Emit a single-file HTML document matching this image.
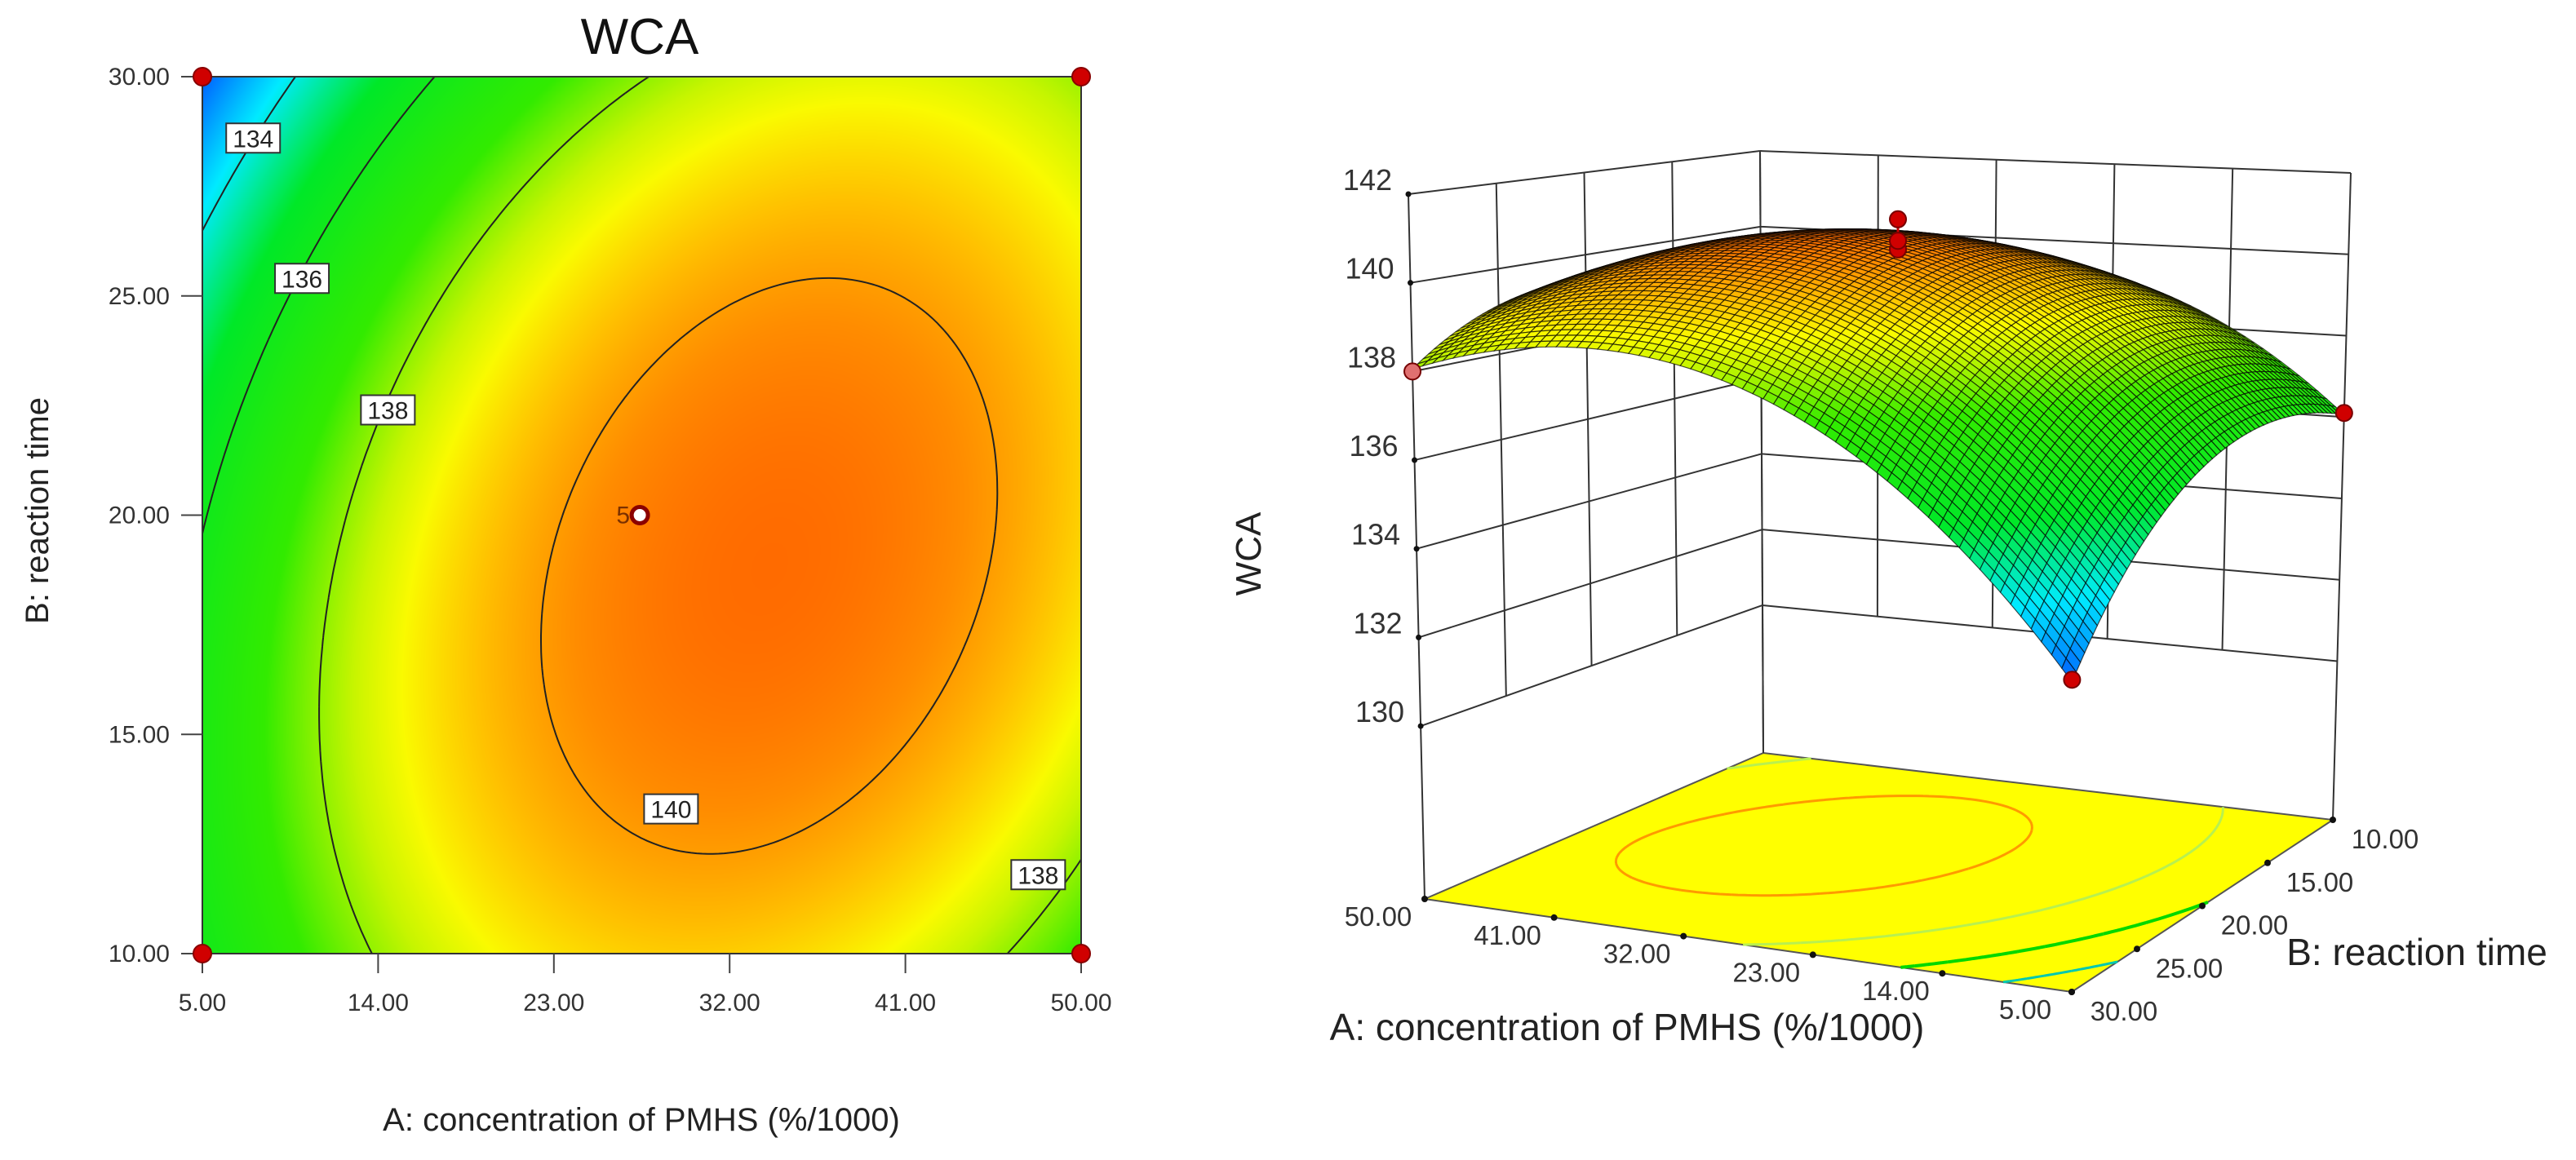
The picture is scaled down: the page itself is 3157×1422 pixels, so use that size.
<!DOCTYPE html>
<html><head><meta charset="utf-8"><title>WCA response surface</title>
<style>
html,body{margin:0;padding:0;background:#fff;}
#wrap{position:relative;width:3157px;height:1422px;overflow:hidden;background:#fff;font-family:"Liberation Sans",sans-serif;}
#heat{position:absolute;left:248px;top:94px;}
#svg{position:absolute;left:0;top:0;}
</style></head>
<body>
<div id="wrap">
<canvas id="heat" width="1077" height="1075"></canvas>
<svg id="svg" width="3157" height="1422" xmlns="http://www.w3.org/2000/svg"></svg>
</div>
<script>
// ---- data ----
const aTicks=[5,14,23,32,41,50];
const bTicks=[10,15,20,25,30];
const zTicks=[130,132,134,136,138,140,142];
const contourLevels=[134,136,138,140];
// quadratic model coefficients (coded units): b0,bA,bB,bAB,bAA,bBB
const coef=[140.4,1.725,-0.725,1.125,-2.75,-1.72];
const designA=[5,50,5,50];
const designB=[10,10,30,30];
const designW=[136.1,137.3,132.4,138.0];
const centerW=[140.4,140.6,141.1];
const labelLevels=[134,136,138,140,138];
const labelA=[7.6,10.1,14.5,29.0,47.8];
const labelB=[28.6,25.4,22.4,13.3,11.8];

const NS="http://www.w3.org/2000/svg";
const svg=document.getElementById('svg');
function W(A,B){const x=(A-27.5)/22.5,y=(B-20)/10;
 return coef[0]+coef[1]*x+coef[2]*y+coef[3]*x*y+coef[4]*x*x+coef[5]*y*y;}
const stops=[[132.4,[0,100,255]],[133.8,[0,235,255]],[135.3,[0,232,40]],[137.3,[50,235,0]],[138.4,[200,245,0]],[138.9,[250,250,0]],[139.6,[255,190,0]],[140.2,[255,140,0]],[140.8,[255,100,0]]];
function col(v){if(v<=stops[0][0])return stops[0][1];
 for(let i=1;i<stops.length;i++){if(v<=stops[i][0]){const a=stops[i-1],b=stops[i];const t=(v-a[0])/(b[0]-a[0]);
  return [0,1,2].map(k=>Math.round(a[1][k]+(b[1][k]-a[1][k])*t));}}
 return stops[stops.length-1][1];}
function el(tag,attrs,parent){const e=document.createElementNS(NS,tag);for(const k in attrs)e.setAttribute(k,attrs[k]);(parent||svg).appendChild(e);return e;}
function txt(s,x,y,size,anchor,fill,parent){const t=el('text',{x:x,y:y,'font-size':size,'text-anchor':anchor||'middle',fill:fill||'#222','font-family':'Liberation Sans, sans-serif'},parent);t.textContent=s;return t;}
function contour(level,n){const segs=[];const dA=45/n,dB=20/n;
 for(let i=0;i<n;i++)for(let j=0;j<n;j++){const A0=5+i*dA,B0=10+j*dB;
  const P=[[A0,B0],[A0+dA,B0],[A0+dA,B0+dB],[A0,B0+dB]];const v=P.map(p=>W(p[0],p[1])-level);const pts=[];
  for(let e=0;e<4;e++){const a=e,b=(e+1)%4;if((v[a]<0)!==(v[b]<0)){const t=v[a]/(v[a]-v[b]);pts.push([P[a][0]+(P[b][0]-P[a][0])*t,P[a][1]+(P[b][1]-P[a][1])*t]);}}
  if(pts.length>=2)segs.push([pts[0],pts[1]]);if(pts.length==4)segs.push([pts[2],pts[3]]);}
 return segs;}

// ---- 2D contour plot ----
const PL=248,PT=94,PW=1077,PH=1075;
function px(A){return PL+(A-5)/45*PW;}
function py(B){return PT+(30-B)/20*PH;}
(function(){const c=document.getElementById('heat').getContext('2d');const img=c.createImageData(PW,PH);
 for(let j=0;j<PH;j++){const B=30-j/PH*20;for(let i=0;i<PW;i++){const A=5+i/PW*45;const k=col(W(A,B));const o=(j*PW+i)*4;img.data[o]=k[0];img.data[o+1]=k[1];img.data[o+2]=k[2];img.data[o+3]=255;}}
 c.putImageData(img,0,0);})();
const g2=el('g',{});


contourLevels.forEach(lv=>{let d='';contour(lv,160).forEach(s=>{d+='M'+px(s[0][0]).toFixed(1)+' '+py(s[0][1]).toFixed(1)+'L'+px(s[1][0]).toFixed(1)+' '+py(s[1][1]).toFixed(1);});
 const p=el('path',{d:d,stroke:'#222',fill:'none','stroke-width':2},g2);
 
 });
labelLevels.forEach((lv,i)=>{const x=px(labelA[i]),y=py(labelB[i]);
 const r=el('rect',{x:x-33,y:y-18,width:66,height:36,fill:'#fff',stroke:'#333','stroke-width':2},g2);
 
 
 const t=txt(String(lv),x,y+11,30,'middle','#222',g2);
 
 });
const fr=el('rect',{x:PL,y:PT,width:PW,height:PH,fill:'none',stroke:'#333','stroke-width':2},g2);


aTicks.forEach(a=>{const x=px(a);const l=el('line',{x1:x,y1:PT+PH,x2:x,y2:PT+PH+24,stroke:'#444','stroke-width':2},g2);
 
 
 const t=txt(a.toFixed(2),x,1239,30,'middle','#333',g2);
 
 });
bTicks.forEach(b=>{const y=py(b);const l=el('line',{x1:PL-26,y1:y,x2:PL,y2:y,stroke:'#444','stroke-width':2},g2);
 
 
 const t=txt(b.toFixed(2),208,y+10,30,'end','#333',g2);
 
 });
designA.forEach((a,i)=>{const c=el('circle',{cx:px(a),cy:py(designB[i]),r:11,fill:'#d00000',stroke:'#800','stroke-width':2},g2);
 
 });
const cp=el('circle',{cx:px(27.4),cy:py(20),r:10,fill:'#fff',stroke:'#8b0000','stroke-width':5},g2);


const cpl=txt('5',px(27.4)-12,py(20)+10,30,'end','#7a3000',g2);


const t2=txt('WCA',784,66,62,'middle','#111');


const xt=txt('A: concentration of PMHS (%/1000)',786,1386,40,'middle','#222');


const yt=txt('B: reaction time',0,0,40,'middle','#222');
yt.setAttribute('transform','translate(59,626) rotate(-90)');



// ---- 3D surface ----
const FL={L:[1746,1102],K:[2161,923],R:[2859,1005],F:[2539,1216]};
const TP={L:[1726,238],K:[2157,185],R:[2881,212],F:[2540,250]};
const ZMIN=126.1,ZMAX=142;
function bil(C,s,r){return [0,1].map(k=>(1-s)*(1-r)*C.L[k]+(1-s)*r*C.K[k]+s*r*C.R[k]+s*(1-r)*C.F[k]);}
function P3(A,B,z){const s=(50-A)/45,r=(30-B)/20;const f=bil(FL,s,r),t=bil(TP,s,r);const u=(z-ZMIN)/(ZMAX-ZMIN);return [f[0]+(t[0]-f[0])*u,f[1]+(t[1]-f[1])*u];}
const g3=el('g',{});


function line3(a,b,st,w,name){const p=P3(...a),q=P3(...b);const l=el('line',{x1:p[0],y1:p[1],x2:q[0],y2:q[1],stroke:st,'stroke-width':w},g3);
 
 return l;}
// floor
const fp=[P3(50,30,ZMIN),P3(50,10,ZMIN),P3(5,10,ZMIN),P3(5,30,ZMIN)];
const floor=el('polygon',{points:fp.map(p=>p.join(',')).join(' '),fill:'#ffff00',stroke:'#555','stroke-width':2},g3);


const floorCols={134:'#00c8b0',136:'#00d800',138:'#b8f050',140:'#ff9a00'};
contourLevels.forEach(lv=>{let d='';contour(lv,120).forEach(s=>{const a=P3(s[0][0],s[0][1],ZMIN),b=P3(s[1][0],s[1][1],ZMIN);d+='M'+a[0].toFixed(1)+' '+a[1].toFixed(1)+'L'+b[0].toFixed(1)+' '+b[1].toFixed(1);});
 const p=el('path',{d:d,stroke:floorCols[lv],fill:'none','stroke-width':lv==136?4:3},g3);
 
 });
// walls
bTicks.forEach(b=>{line3([50,b,(b==30||b==10)?ZMIN:130],[50,b,142],'#333',2,'wall-grid-line');});
aTicks.forEach(a=>{line3([a,10,(a==5||a==50)?ZMIN:130],[a,10,142],'#333',2,'wall-grid-line');});
zTicks.forEach(z=>{line3([50,30,z],[50,10,z],'#333',2,'wall-grid-line');line3([50,10,z],[5,10,z],'#333',2,'wall-grid-line');
 const p=P3(50,30,z);const d=el('circle',{cx:p[0],cy:p[1],r:3.5,fill:'#111'},g3);
 
 
 const t=txt(String(z),p[0]-20,p[1]-5,36,'end','#333',g3);
 
 });
// floor axis ticks and labels
aTicks.forEach(a=>{const p=P3(a,30,ZMIN);const d=el('circle',{cx:p[0],cy:p[1],r:4,fill:'#111'},g3);
 
 
 const t=txt(a.toFixed(2),p[0]-57,p[1]+33,33,'middle','#333',g3);
 
 });
bTicks.forEach(b=>{const p=P3(5,b,ZMIN);const d=el('circle',{cx:p[0],cy:p[1],r:4,fill:'#111'},g3);
 
 
 const t=txt(b.toFixed(2),p[0]+64,p[1]+35,33,'middle','#333',g3);
 
 });
// hidden design point (behind surface) drawn first
{const p=P3(designA[1],designB[1],designW[1]);const c=el('circle',{cx:p[0],cy:p[1],r:10,fill:'#d00000',stroke:'#700','stroke-width':2},g3);
 
 }
// surface mesh
const N=64;const quads=[];
for(let i=0;i<N;i++)for(let j=0;j<N;j++){const s0=i/N,s1=(i+1)/N,r0=j/N,r1=(j+1)/N;
 const pts=[[s0,r0],[s1,r0],[s1,r1],[s0,r1]].map(q=>{const A=50-q[0]*45,B=30-q[1]*20;return P3(A,B,W(A,B));});
 const Am=50-(s0+s1)/2*45,Bm=30-(r0+r1)/2*20;quads.push({pts:pts,v:W(Am,Bm),k:(s0+s1)/2-(r0+r1)/2});}
quads.sort((a,b)=>a.k-b.k);
const gs=el('g',{},g3);


quads.forEach(q=>{const c=col(q.v);const p=el('polygon',{points:q.pts.map(p=>p[0].toFixed(1)+','+p[1].toFixed(1)).join(' '),fill:'rgb('+c.join(',')+')',stroke:'rgba(0,0,0,0.68)','stroke-width':1.2},gs);
 
 });
// design points 3D
[0,2,3].forEach(i=>{const p=P3(designA[i],designB[i],designW[i]);const c=el('circle',{cx:p[0],cy:p[1],r:10,fill:i==3?'#e07070':'#d00000',stroke:'#700','stroke-width':2},g3);
 
 });
const sTop=P3(27.5,20,Math.max(...centerW)),sBase=P3(27.5,20,W(27.5,20));
const stem=el('line',{x1:sTop[0],y1:sTop[1],x2:sBase[0],y2:sBase[1],stroke:'#c00','stroke-width':3},g3);


centerW.forEach(w=>{const p=P3(27.5,20,w);const c=el('circle',{cx:p[0],cy:p[1],r:10,fill:'#d00000',stroke:'#700','stroke-width':2},g3);
 
 });
const zt=txt('WCA',0,0,44,'middle','#222',g3);
zt.setAttribute('transform','translate(1545,679) rotate(-90)');


const at=txt('A: concentration of PMHS (%/1000)',1994,1275,46,'middle','#222',g3);


const bt=txt('B: reaction time',2962,1183,46,'middle','#222',g3);


</script>
</body></html>
